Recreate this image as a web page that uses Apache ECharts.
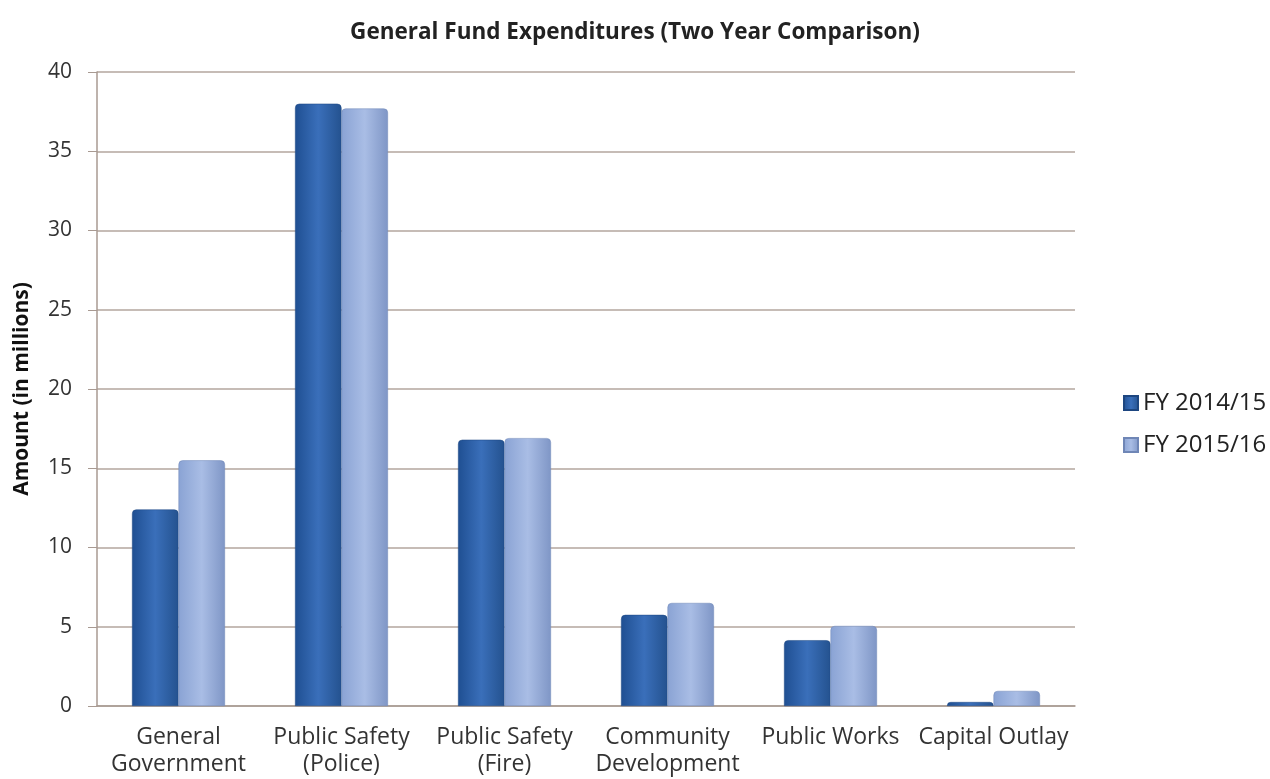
<!DOCTYPE html>
<html><head><meta charset="utf-8">
<script src="https://cdn.jsdelivr.net/npm/echarts@6/dist/echarts.min.js"></script>
<style>html,body{margin:0;padding:0;background:#fff}#c{width:1270px;height:779px}</style>
</head><body><div id="c"></div>
<script>
const categories = ['General\nGovernment','Public Safety\n(Police)','Public Safety\n(Fire)','Community\nDevelopment','Public Works','Capital Outlay'];
const fy1415 = [12.4, 38.0, 16.8, 5.75, 4.15, 0.25];
const fy1516 = [15.5, 37.7, 16.9, 6.5, 5.05, 0.95];
const seriesNames = ['FY 2014/15','FY 2015/16'];
const yTicks = {min:0, max:40, interval:5};

function grad(a,b,c){return new echarts.graphic.LinearGradient(0,0,1,0,[{offset:0,color:a},{offset:0.5,color:b},{offset:1,color:c}]);}
const chart = echarts.init(document.getElementById('c'));
chart.setOption({
  animation:false,
  title:{text:'General Fund Expenditures (Two Year Comparison)',left:'center',top:16,
    textStyle:{fontFamily:'Open Sans',fontWeight:'bold',fontSize:22.5,color:'#222'}},
  legend:{orient:'vertical',left:1118,top:386,itemWidth:14,itemHeight:14,itemGap:18,
    icon:'rect',textStyle:{fontFamily:'Open Sans',fontSize:24,lineHeight:24,color:'#222',padding:[0,0,0,0]},data:seriesNames},
  grid:{left:97,right:195,top:72,bottom:73,containLabel:false,outerBoundsMode:'none'},
  xAxis:{type:'category',data:categories,
    axisLine:{lineStyle:{color:'#a89a92',width:1.5}},axisTick:{show:false},
    axisLabel:{fontFamily:'Open Sans',fontSize:23,color:'#333',margin:18,lineHeight:27,interval:0}},
  yAxis:{type:'value',min:yTicks.min,max:yTicks.max,interval:yTicks.interval,
    name:'Amount (in millions)',nameLocation:'middle',nameGap:64,
    nameTextStyle:{fontFamily:'Open Sans',fontWeight:'bold',fontSize:21,color:'#111'},
    axisLine:{show:true,lineStyle:{color:'#a89a92',width:1.5}},
    axisTick:{show:true,length:9,lineStyle:{color:'#a89a92'}},
    splitLine:{lineStyle:{color:'#b3a69e',width:1.5}},
    axisLabel:{fontFamily:'Open Sans',fontSize:21,color:'#333',margin:25}},
  series:[
    {name:seriesNames[0],type:'bar',data:fy1415,barGap:'0%',barCategoryGap:'43%',
      itemStyle:{color:grad('#1f4f92','#3a6fba','#24528f'),borderColor:'#1d4680',borderWidth:0.5,borderRadius:[4,4,0,0]}},
    {name:seriesNames[1],type:'bar',data:fy1516,
      itemStyle:{color:grad('#8aa3d4','#a9bde5','#7f96c6'),borderColor:'#6f86b6',borderWidth:0.5,borderRadius:[4,4,0,0]}}
  ]
});
</script></body></html>
